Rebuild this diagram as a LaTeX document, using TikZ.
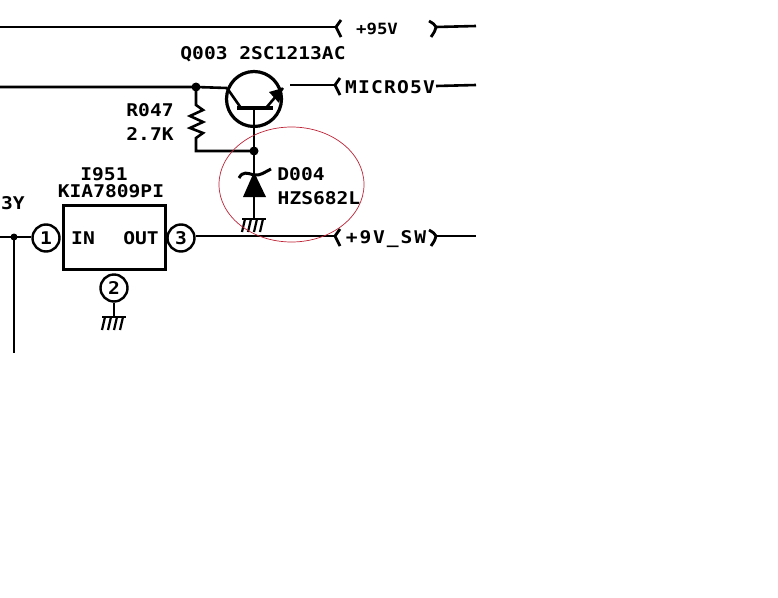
\documentclass[tikz,border=0pt]{standalone}
\usepackage{fontspec}
\setmonofont[FakeStretch=1.12]{DejaVu Sans Mono}
\usepackage{tikz}
\usetikzlibrary{calc}
\definecolor{ringred}{RGB}{190,35,55}
\newcommand{\lblfont}{\ttfamily\bfseries\fontsize{17.5}{17.5}\selectfont}
\tikzset{
  wire/.style={line width=2.6pt},
  pin/.style={circle,draw,line width=2.4pt,minimum size=27pt,inner sep=0pt,font=\lblfont},
  lbl/.style={inner sep=0pt,text height=12.8pt,text depth=0pt,font=\lblfont},
  gnd/.pic={
    \draw[line width=2.8pt] (-12,0) -- (12,0);
    \foreach \i in {-9,-3,3,9} \draw[line width=2.2pt] (\i,0) -- (\i-3,13);
  },
  lbrk/.pic={\draw[line width=2.8pt] (5,-7) .. controls (2,-3) .. (0,0) .. controls (2,4) .. (5,10);},
  rbrk/.pic={\draw[line width=2.8pt] (-7,-6) .. controls (-2,-3) .. (0,0) .. controls (-1,4) .. (-5,10);}
}
\begin{document}
\begin{tikzpicture}[x=1pt,y=-1pt]
\useasboundingbox (0,0) rectangle (778,597);

% top rail
\coordinate (railA) at (0,27);
\coordinate (railAb) at (336,27);
\coordinate (railAc) at (436,27);
\coordinate (railAd) at (476,26);
\draw[wire] (railA) -- (railAb);
\draw[wire] (railAc) -- (railAd);
\pic at (railAb) {lbrk};
\pic at (railAc) {rbrk};
\node[lbl,font=\ttfamily\bfseries\fontsize{15.5}{15.5}\selectfont,text height=11.3pt] (v95) at (377,29) {+95V};

% transistor
\node[circle,draw,line width=3.2pt,minimum size=55pt,inner sep=0pt] (q3) at (254,99) {};
\node[lbl] (q3name) at (263,53) {Q003 2SC1213AC};
\coordinate (base) at (254,108);
\coordinate (collA) at (241,108);
\coordinate (collB) at (227,88);
\coordinate (emitA) at (266,108);
\coordinate (emitB) at (283,88);
\draw[line width=3.2pt] (237,108) -- (273,108);
\draw[wire] (collA) -- (collB);
\draw[wire] (emitA) -- (emitB);
\fill (emitB) -- (269,92) -- (279,103) -- cycle;

% micro line
\coordinate (inB) at (0,87);
\coordinate (tap) at (196,87);
\coordinate (outA) at (290,85);
\coordinate (outB) at (335,85);
\coordinate (outC) at (436,86);
\coordinate (outD) at (476,85);
\draw[wire] (inB) -- (tap) -- (collB);
\draw[wire] (outA) -- (outB);
\draw[wire] (outC) -- (outD);
\pic at (outB) {lbrk};
\node[lbl,font=\lblfont\addfontfeature{LetterSpace=7}] (micro) at (390,87) {MICRO5V};
\fill (tap) circle (4.5);

% R047
\coordinate (nodeB) at (254,151);
\draw[wire] (tap) -- (196,105) -- (203,110) -- (190,116) -- (203,122) -- (190,128) -- (203,133) -- (196,138) -- (196,151) -- (nodeB);
\node[lbl] (r47) at (150,110) {R047};
\node[lbl] (r47v) at (150,134) {2.7K};

% zener
\coordinate (gndA) at (254,219);
\draw[wire] (base) -- (nodeB);
\draw[wire] (nodeB) -- (gndA);
\fill (nodeB) circle (4.5);
\fill (254,172) -- (243,197) -- (266,197) -- cycle;
\draw[line width=3pt] (239,178) .. controls (243,171) and (247,173) .. (254,175) .. controls (260,176) and (265,172) .. (271,169);
\node[lbl] (d4) at (301,174) {D004};
\node[lbl] (d4t) at (319,198) {HZS682L};
\pic at (gndA) {gnd};

% regulator
\node[draw,line width=3.2pt,minimum width=102pt,minimum height=64pt,inner sep=0pt] (reg) at (114.5,237.5) {};
\node[lbl] (regA) at (104,174) {I951};
\node[lbl] (regB) at (111,191) {KIA7809PI};
\node[lbl] (regIn) at (83,238) {IN};
\node[lbl] (regOut) at (141,238) {OUT};
\node[pin] (p1) at (46,238) {1};
\node[pin] (p3) at (181,238) {3};
\node[pin] (p2) at (114,288) {2};
\coordinate (gndB) at (114,317);
\draw[wire] (p2) -- (gndB);
\pic at (gndB) {gnd};

% 9V rail
\coordinate (inC) at (0,237);
\coordinate (tapC) at (14,237);
\coordinate (downC) at (14,353);
\coordinate (swA) at (335,236);
\coordinate (swB) at (436,236);
\coordinate (swC) at (476,236);
\draw[wire] (inC) -- (p1.west |- inC);
\draw[wire] (tapC) -- (downC);
\fill (tapC) circle (3.5);
\draw[wire] (p3.east |- swA) -- (swA);
\draw[wire] (swB) -- (swC);
\pic at (swA) {lbrk};
\pic at (swB) {rbrk};
\node[lbl,font=\lblfont\addfontfeature{LetterSpace=11}] (v9) at (386,237) {+9V\_SW};
\node[lbl] (v3) at (13,203) {3Y};

% red mark
\draw[ringred,line width=0.7pt] (291.5,184.5) ellipse (72.5 and 57.5);
\end{tikzpicture}
\end{document}
